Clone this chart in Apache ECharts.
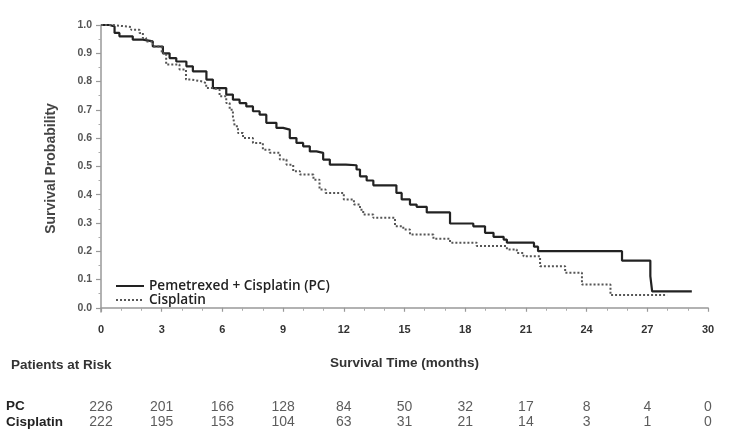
<!DOCTYPE html>
<html>
<head>
<meta charset="utf-8">
<script src="https://cdn.jsdelivr.net/npm/echarts@6/dist/echarts.min.js"></script>
<style>html,body{margin:0;padding:0;background:#fff}#c{width:734px;height:435px}</style>
</head>
<body>
<div id="c"></div>
<script>
// Kaplan-Meier steps: time (months) and survival after each drop
var pcTime = [0, 0.42, 0.67, 0.91, 1.57, 2.07, 2.56, 3.06, 3.39, 3.72, 4.22, 4.54, 5.21, 5.53, 6.19, 6.52, 6.85, 7.18, 7.51, 7.84, 8.17, 8.67, 9.0, 9.33, 9.66, 9.99, 10.32, 10.65, 10.98, 11.31, 12.1, 12.63, 12.8, 13.13, 13.46, 14.6, 14.86, 15.27, 15.6, 16.1, 17.25, 18.4, 18.98, 19.4, 19.9, 20.06, 21.4, 21.6, 25.75, 27.15, 27.24, 29.2];
var pcSurv = [1.0, 0.995, 0.972, 0.96, 0.948, 0.942, 0.924, 0.90, 0.883, 0.871, 0.854, 0.836, 0.807, 0.777, 0.754, 0.736, 0.724, 0.712, 0.695, 0.683, 0.654, 0.636, 0.63, 0.60, 0.583, 0.571, 0.553, 0.548, 0.524, 0.506, 0.504, 0.489, 0.465, 0.45, 0.433, 0.406, 0.383, 0.365, 0.357, 0.337, 0.298, 0.288, 0.265, 0.251, 0.241, 0.23, 0.216, 0.20, 0.167, 0.112, 0.058, 0.058];
var cisTime = [0, 0.58, 1.49, 1.9, 2.07, 2.23, 2.56, 3.0, 3.22, 3.88, 4.2, 4.46, 5.04, 5.2, 5.53, 5.86, 6.19, 6.36, 6.52, 6.61, 6.77, 7.02, 7.51, 8.0, 8.34, 8.84, 9.17, 9.5, 9.83, 10.5, 10.8, 11.1, 12.0, 12.5, 12.8, 12.96, 13.46, 14.53, 14.94, 15.27, 16.43, 17.25, 18.57, 20.06, 20.55, 20.88, 21.7, 22.94, 23.77, 25.18, 27.98];
var cisSurv = [1.0, 0.993, 0.983, 0.972, 0.954, 0.942, 0.924, 0.90, 0.86, 0.843, 0.807, 0.80, 0.794, 0.777, 0.771, 0.748, 0.724, 0.70, 0.677, 0.642, 0.618, 0.60, 0.583, 0.559, 0.548, 0.524, 0.506, 0.483, 0.471, 0.453, 0.418, 0.406, 0.383, 0.365, 0.347, 0.33, 0.318, 0.288, 0.277, 0.259, 0.244, 0.23, 0.218, 0.206, 0.194, 0.182, 0.147, 0.124, 0.082, 0.045, 0.045];

var seriesNames = ['Pemetrexed + Cisplatin (PC)', 'Cisplatin'];
var riskRows = ['PC', 'Cisplatin'];
var riskTimes = [0, 3, 6, 9, 12, 15, 18, 21, 24, 27, 30];
var riskPC = [226, 201, 166, 128, 84, 50, 32, 17, 8, 4, 0];
var riskCis = [222, 195, 153, 104, 63, 31, 21, 14, 3, 1, 0];
var yTicks = [0, 0.1, 0.2, 0.3, 0.4, 0.5, 0.6, 0.7, 0.8, 0.9, 1.0];
var yMinorTicks = [0.05, 0.15, 0.25, 0.35, 0.45, 0.55, 0.65, 0.75, 0.85, 0.95];

function zip(a, b) { return a.map(function (v, i) { return [v, b[i]]; }); }
var riskData = [];
riskTimes.forEach(function (t, i) {
  riskData.push([t, 0, riskPC[i]]);
  riskData.push([t, 1, riskCis[i]]);
});

var F = 'Liberation Sans, Arial, sans-serif';
var chart = echarts.init(document.getElementById('c'), null, { renderer: 'canvas' });
chart.setOption({
  animation: false,
  backgroundColor: '#fff',
  title: {
    text: 'Patients at Risk', left: 6, top: 353,
    textStyle: { fontFamily: F, fontSize: 13.5, fontWeight: 'bold', color: '#333' }
  },
  legend: {
    orient: 'vertical', left: 115, top: 279, padding: 0, itemWidth: 28, itemHeight: 13, itemGap: 0,
    data: seriesNames,
    itemStyle: { opacity: 0 },
    textStyle: { fontFamily: 'Open Sans, sans-serif', fontSize: 13.6, fontWeight: 600, color: '#222' }
  },
  grid: [
    { left: 101, right: 26, top: 25, height: 287 },
    { left: 101, right: 26, top: 399, height: 31 }
  ],
  xAxis: [
    {
      type: 'value', gridIndex: 0, min: 0, max: 30, interval: 3,
      name: 'Survival Time (months)', nameLocation: 'middle', nameGap: 44,
      nameTextStyle: { fontFamily: F, fontSize: 13.5, fontWeight: 'bold', color: '#333' },
      axisLine: { show: true, lineStyle: { color: '#999', width: 1.5 } },
      axisTick: { show: true, length: 4, lineStyle: { color: '#999', width: 1.2 } },
      minorTick: { show: true, splitNumber: 3, length: 3, lineStyle: { color: '#aaa', width: 1 } },
      axisLabel: { fontFamily: F, fontSize: 11, fontWeight: 'bold', color: '#333', margin: 12 },
      splitLine: { show: false }
    },
    { type: 'value', gridIndex: 1, min: 0, max: 30, interval: 3, show: false }
  ],
  yAxis: [
    {
      type: 'value', gridIndex: 0, min: -0.015, max: 1, position: 'left',
      name: 'Survival Probability', nameLocation: 'middle', nameGap: 43,
      nameTextStyle: { fontFamily: F, fontSize: 14, fontWeight: 'bold', color: '#444' },
      axisLine: { show: true, lineStyle: { color: '#999', width: 1.5 } },
      axisTick: { show: true, length: 5, customValues: yTicks, lineStyle: { color: '#999', width: 1.2 } },
      axisLabel: {
        customValues: yTicks, fontFamily: F, fontSize: 10.5, fontWeight: 'bold', color: '#555', margin: 9,
        formatter: function (v) { return v.toFixed(1); }
      },
      splitLine: { show: false }
    },
    {
      type: 'value', gridIndex: 0, min: -0.015, max: 1, position: 'left', offset: 0,
      axisLine: { show: false },
      axisTick: { show: true, length: 2.5, customValues: yMinorTicks, lineStyle: { color: '#aaa', width: 1 } },
      axisLabel: { show: false },
      splitLine: { show: false }
    },
    {
      type: 'category', gridIndex: 1, data: riskRows, inverse: true,
      axisLine: { show: false }, axisTick: { show: false },
      axisLabel: {
        interval: 0, fontFamily: F, fontSize: 13.5, fontWeight: 'bold', color: '#222', align: 'left', margin: 95,
        padding: [0, 0, 4, 0]
      }
    }
  ],
  series: [
    {
      name: seriesNames[0], type: 'line', xAxisIndex: 0, yAxisIndex: 0, step: 'end',
      symbol: 'none', showSymbol: false, data: zip(pcTime, pcSurv),
      lineStyle: { color: '#222', width: 2.2, type: 'solid' },
      itemStyle: { color: '#222' }
    },
    {
      name: seriesNames[1], type: 'line', xAxisIndex: 0, yAxisIndex: 0, step: 'end',
      symbol: 'none', showSymbol: false, data: zip(cisTime, cisSurv),
      lineStyle: { color: '#555', width: 2, type: 'dotted' },
      itemStyle: { color: '#555' }
    },
    {
      type: 'scatter', xAxisIndex: 1, yAxisIndex: 2, symbolSize: 0, silent: true,
      data: riskData,
      label: {
        show: true, position: 'inside', fontFamily: F, fontSize: 14, color: '#333',
        formatter: function (p) { return p.value[2]; }
      }
    }
  ]
});
</script>
</body>
</html>
